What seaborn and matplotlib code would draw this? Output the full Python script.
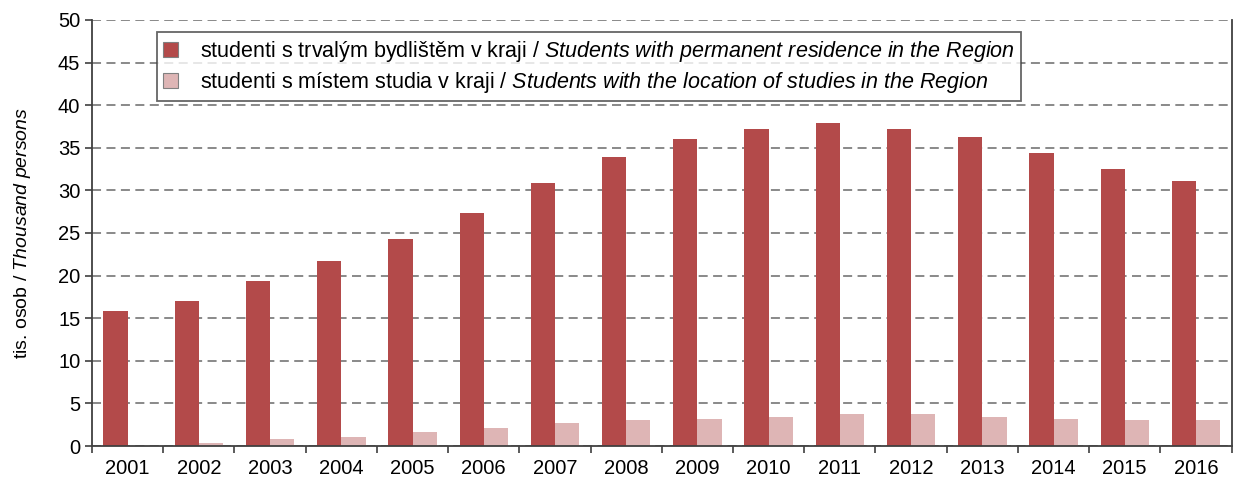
import matplotlib
matplotlib.use('Agg')
import matplotlib.pyplot as plt
import seaborn as sns
import pandas as pd
import numpy as np
from matplotlib.patches import Patch

roky = [str(r) for r in range(2001, 2017)]
trvale = [15.8, 17.0, 19.4, 21.7, 24.3, 27.3, 30.9, 33.9, 36.0, 37.2, 37.9, 37.2, 36.3, 34.4, 32.5, 31.1]
studium = [0.0, 0.4, 0.86, 1.1, 1.6, 2.1, 2.7, 3.0, 3.2, 3.4, 3.7, 3.7, 3.4, 3.2, 3.0, 3.0]
serie = ['trvale', 'studium']
barvy = ['#B34A4A', '#DEB5B5']
popisky = [r'studenti s trvalým bydlištěm v kraji / $\it{Students\ with\ permanent\ residence\ in\ the\ Region}$',
           r'studenti s místem studia v kraji / $\it{Students\ with\ the\ location\ of\ studies\ in\ the\ Region}$']

df = pd.DataFrame({'rok': roky * 2,
                   'hodnota': trvale + studium,
                   'serie': [serie[0]] * len(roky) + [serie[1]] * len(roky)})

sns.set_theme(style='white')
plt.rcParams['font.family'] = ['Liberation Sans', 'DejaVu Sans']
plt.rcParams['mathtext.fontset'] = 'custom'
plt.rcParams['mathtext.rm'] = 'Liberation Sans'
plt.rcParams['mathtext.it'] = 'Liberation Sans:italic'
plt.rcParams['text.color'] = 'black'
plt.rcParams['axes.labelcolor'] = 'black'
plt.rcParams['xtick.color'] = 'black'
plt.rcParams['ytick.color'] = 'black'

fig = plt.figure(figsize=(12.44, 4.83), dpi=100)
ax = fig.add_axes([0.074, 0.0766, 0.916, 0.882])
sns.barplot(data=df, x='rok', y='hodnota', hue='serie', palette=barvy, width=0.68,
            saturation=1, ax=ax, legend=False, linewidth=0)

ax.set_ylim(0, 50)
ax.set_xlim(-0.5, len(roky) - 0.5)
ax.set_yticks(np.arange(0, 51, 5))
ax.yaxis.grid(True, linestyle=(0, (5, 3)), color='#808080', linewidth=1.3)
ax.set_axisbelow(True)
ax.set_xlabel('')
ax.set_ylabel(r'tis. osob / $\it{Thousand\ persons}$', fontsize=14, labelpad=18)
ax.tick_params(axis='x', which='major', length=0, labelsize=14.5, pad=9)
ax.set_xticks(np.arange(-0.5, len(roky), 1), minor=True)
ax.tick_params(axis='x', which='minor', length=5, width=1.2, color='#404040', bottom=True)
ax.tick_params(axis='y', length=5, width=1.2, color='#404040', labelsize=14.5, left=True)
for s in ['left', 'bottom', 'right']:
    ax.spines[s].set_color('#404040')
    ax.spines[s].set_linewidth(1.3)
ax.spines['top'].set_visible(False)

handles = [Patch(facecolor=c, edgecolor='#808080', linewidth=0.8) for c in barvy]
leg = ax.legend(handles, popisky, loc='upper left', bbox_to_anchor=(0.055, 0.976), fontsize=15.5,
                frameon=True, fancybox=False, edgecolor='#404040', handlelength=0.7,
                handleheight=0.7, handletextpad=1.0, borderpad=0.3, labelspacing=0.28,
                borderaxespad=0.1)
leg.get_frame().set_linewidth(1.3)

fig.savefig('out.png', dpi=100)
